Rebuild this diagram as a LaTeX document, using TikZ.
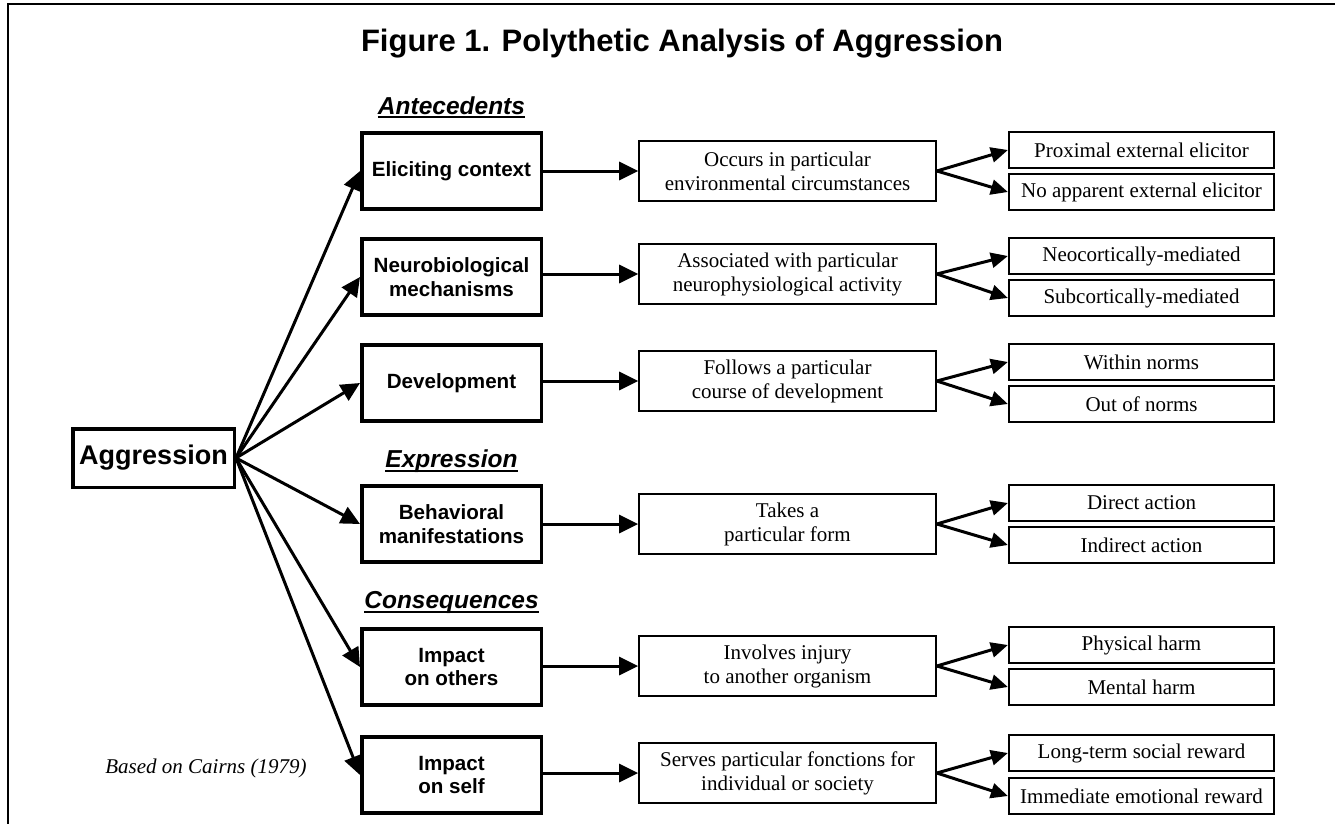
\documentclass[tikz,border=0pt]{standalone}
\usepackage{fontspec}
\setmainfont{Liberation Serif}
\setsansfont{Liberation Sans}
\usetikzlibrary{arrows.meta}
\begin{document}
\begin{tikzpicture}[x=1pt,y=-1pt,
  boldbox/.style={draw,line width=3.5pt,minimum width=179.5pt,minimum height=76pt,inner sep=0pt,align=center,font=\sffamily\bfseries\fontsize{20.6}{23.5}\selectfont},
  aggbox/.style={draw,line width=3.5pt,minimum width=161.5pt,minimum height=58.5pt,inner sep=0pt,font=\sffamily\bfseries\fontsize{27}{30}\selectfont},
  midbox/.style={draw,line width=1.7pt,minimum width=297pt,minimum height=60pt,inner sep=0pt,align=center,font=\fontsize{21}{24}\selectfont},
  leafbox/.style={draw,line width=2.2pt,minimum width=265pt,minimum height=36pt,inner sep=0pt,font=\fontsize{21}{24}\selectfont},
  heading/.style={inner sep=0pt,anchor=base,font=\sffamily\bfseries\itshape\fontsize{24.5}{28}\selectfont},
  uline/.style={line width=2pt},
  conn/.style={line width=3pt,-{Triangle[length=19pt,width=18pt]}},
  fan/.style={line width=3pt,-{Triangle[length=17pt,width=15pt]}},
]
\useasboundingbox (0,0) rectangle (1335,824);
\fill[white] (0,0) rectangle (1335,824);
% frame
\draw[line width=2pt] (1345,4) -- (8,4) -- (8,834);

% title
\node[anchor=base,inner sep=0pt,font=\sffamily\bfseries\fontsize{31}{35}\selectfont] (title) at (682,52) {Figure 1. Polythetic Analysis of Aggression};

% headings
\node[heading] (ant) at (451.5,114) {Antecedents};
\draw[uline] ([yshift=-3.5pt]ant.base west) -- ([yshift=-3.5pt]ant.base east);
\node[heading] (exp) at (451.5,467) {Expression};
\draw[uline] ([yshift=-3.5pt]exp.base west) -- ([yshift=-3.5pt]exp.base east);
\node[heading] (con) at (451.5,608) {Consequences};
\draw[uline] ([yshift=-3.5pt]con.base west) -- ([yshift=-3.5pt]con.base east);

% root
\node[aggbox] (agg) at (153.5,458) {Aggression};

% bold boxes
\node[boldbox] (ec) at (451.5,171) {Eliciting context};
\node[boldbox] (nm) at (451.5,277) {Neurobiological\\mechanisms};
\node[boldbox] (dv) at (451.5,383) {Development};
\node[boldbox] (bm) at (451.5,524) {Behavioral\\manifestations};
\node[boldbox] (io) at (451.5,667) {Impact\\on others};
\node[boldbox] (is) at (451.5,775) {Impact\\on self};

% middle boxes
\node[midbox] (ecm) at (787.5,171) {Occurs in particular\\environmental circumstances};
\node[midbox] (nmm) at (787.5,274) {Associated with particular\\neurophysiological activity};
\node[midbox] (dvm) at (787.5,381) {Follows a particular\\course of development};
\node[midbox] (bmm) at (787.5,524) {Takes a\\particular form};
\node[midbox] (iom) at (787.5,666) {Involves injury\\to another organism};
\node[midbox] (ism) at (787.5,773) {Serves particular fonctions for\\individual or society};

% leaf boxes
\node[leafbox] (ecA) at (1141.5,150) {Proximal external elicitor};
\node[leafbox] (ecB) at (1141.5,192) {No apparent external elicitor};
\node[leafbox] (nmA) at (1141.5,256) {Neocortically-mediated};
\node[leafbox] (nmB) at (1141.5,298) {Subcortically-mediated};
\node[leafbox] (dvA) at (1141.5,362) {Within norms};
\node[leafbox] (dvB) at (1141.5,404) {Out of norms};
\node[leafbox] (bmA) at (1141.5,503) {Direct action};
\node[leafbox] (bmB) at (1141.5,545) {Indirect action};
\node[leafbox] (ioA) at (1141.5,645) {Physical harm};
\node[leafbox] (ioB) at (1141.5,687) {Mental harm};
\node[leafbox] (isA) at (1141.5,753) {Long-term social reward};
\node[leafbox] (isB) at (1141.5,796) {Immediate emotional reward};

% source note
\node[anchor=base,inner sep=0pt,font=\itshape\fontsize{21}{24}\selectfont] (src) at (206,773) {Based on Cairns (1979)};

% connectors
\foreach \n in {ec,nm,dv,bm,io,is}{
  \draw[conn] (agg.east) -- (\n.west);
  \draw[conn] (\n m.west -| \n.east) -- (\n m.west);
  \draw[fan] (\n m.east) -- (\n A.west);
  \draw[fan] (\n m.east) -- (\n B.west);
}
\end{tikzpicture}
\end{document}
